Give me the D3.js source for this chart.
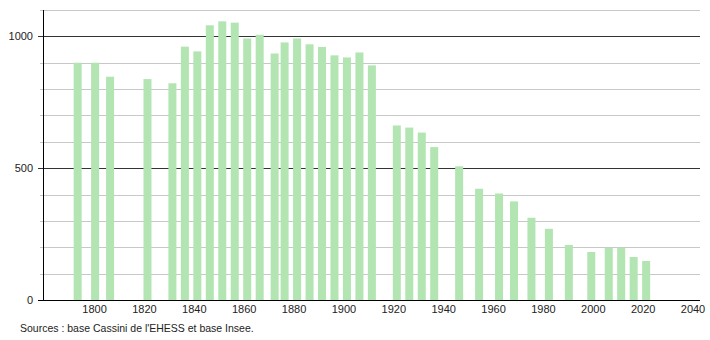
<!DOCTYPE html>
<html lang="fr">
<head>
<meta charset="utf-8">
<title>Population</title>
<script src="https://d3js.org/d3.v7.min.js"></script>
<style>
  body { margin: 0; background: #fff; }
  text { font-family: "Liberation Sans", Arial, sans-serif; }
</style>
</head>
<body>
<svg width="710" height="340"></svg>
<script>
// recensements
var years = [1793, 1800, 1806, 1821, 1831, 1836, 1841, 1846, 1851, 1856, 1861, 1866,
             1872, 1876, 1881, 1886, 1891, 1896, 1901, 1906, 1911, 1921, 1926, 1931,
             1936, 1946, 1954, 1962, 1968, 1975, 1982, 1990, 1999, 2006, 2011, 2016, 2021];
var population = [900, 900, 847, 838, 822, 961, 943, 1042, 1057, 1052, 992, 1006,
                  935, 977, 992, 970, 960, 928, 920, 939, 890, 662, 654, 635,
                  580, 507, 422, 404, 374, 312, 270, 209, 182, 198, 198, 163, 148];
var xTicks = [1800, 1820, 1840, 1860, 1880, 1900, 1920, 1940, 1960, 1980, 2000, 2020, 2040];
var yLabels = [0, 500, 1000];
var source = "Sources : base Cassini de l'EHESS et base Insee.";

var svg = d3.select("svg");

var x = d3.scaleLinear().domain([1779.3, 2042.8]).range([43, 700]);
var y = d3.scaleLinear().domain([0, 1100]).range([300, 10]);

// grille
svg.append("g")
  .selectAll("line")
  .data(d3.range(100, 1101, 100))
  .enter().append("line")
    .attr("x1", function(d) { return d % 500 == 0 ? 38 : 40; })
    .attr("x2", 700)
    .attr("y1", function(d) { return Math.round(y(d)) + 0.5; })
    .attr("y2", function(d) { return Math.round(y(d)) + 0.5; })
    .attr("stroke", function(d) { return d % 500 == 0 ? "#333" : "#c8c8c8"; })
    .attr("stroke-width", 1);

// barres
svg.append("g")
  .selectAll("rect")
  .data(years)
  .enter().append("rect")
    .attr("x", function(d) { return x(d) - 3.5; })
    .attr("width", 8)
    .attr("y", function(d, i) { return y(population[i]); })
    .attr("height", function(d, i) { return y(0) - y(population[i]); })
    .attr("fill", "#b2e5b2");

// axes
svg.append("line")
    .attr("x1", 43.5).attr("x2", 43.5)
    .attr("y1", 10).attr("y2", 300)
    .attr("stroke", "#000");
svg.append("line")
    .attr("x1", 38).attr("x2", 700)
    .attr("y1", 300.5).attr("y2", 300.5)
    .attr("stroke", "#000");

svg.append("g")
  .selectAll("text")
  .data(yLabels)
  .enter().append("text")
    .attr("x", 33)
    .attr("y", function(d) { return y(d) + 4; })
    .attr("text-anchor", "end")
    .attr("font-size", 11)
    .attr("fill", "#222")
    .text(function(d) { return d; });

svg.append("g")
  .selectAll("text")
  .data(xTicks)
  .enter().append("text")
    .attr("x", function(d) { return x(d); })
    .attr("y", 313)
    .attr("text-anchor", "middle")
    .attr("font-size", 11)
    .attr("fill", "#222")
    .text(function(d) { return d; });

svg.append("text")
    .attr("x", 20)
    .attr("y", 332)
    .attr("font-size", 10.5)
    .attr("fill", "#222")
    .text(source);
</script>
</body>
</html>
